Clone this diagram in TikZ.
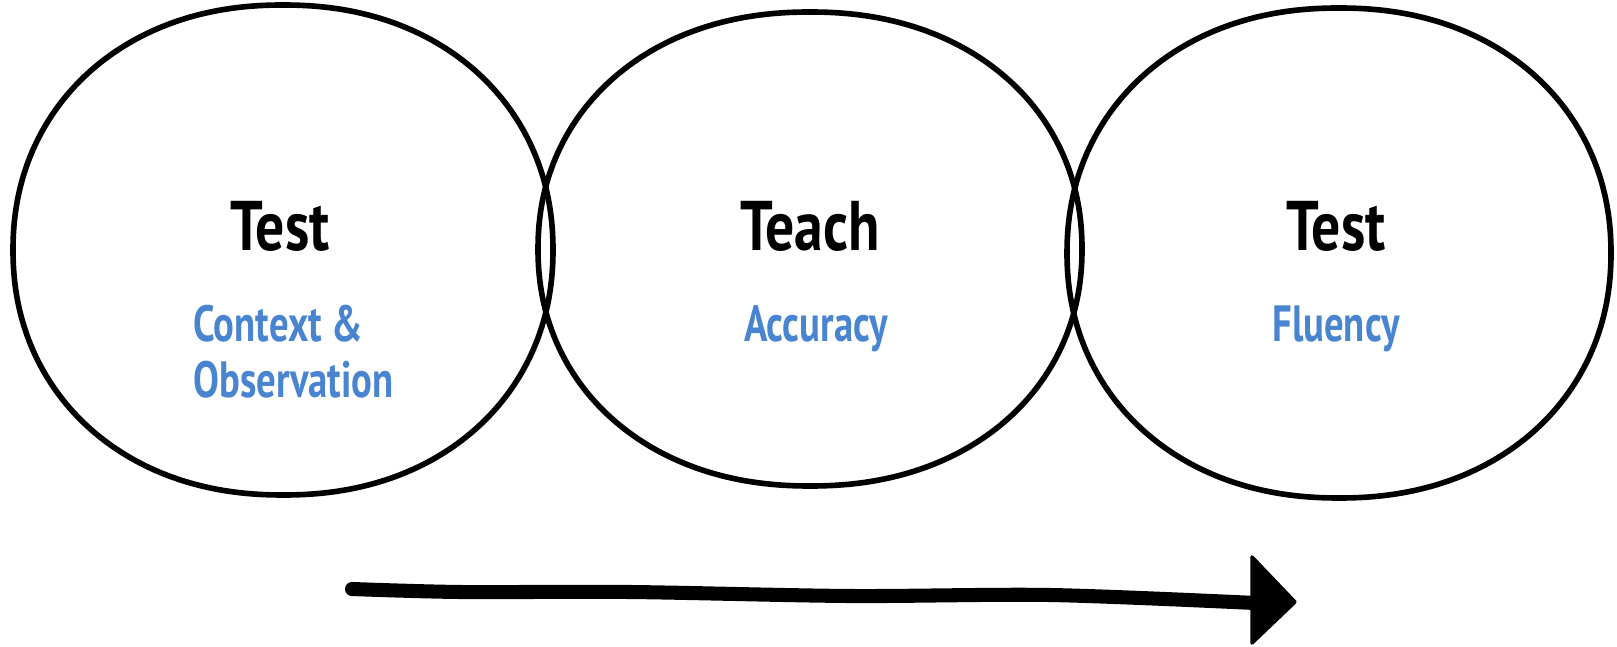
\documentclass[tikz,border=0pt]{standalone}
\usepackage{fontspec}
\setmainfont{PT Sans}
\definecolor{handblue}{RGB}{72,132,208}
\tikzset{
  blob/.style={draw=black, line width=1.6pt, line join=round},
  title/.style={anchor=base, inner sep=0pt, font=\bfseries\fontsize{20}{22}\selectfont, text=black},
  sub/.style={anchor=base, inner sep=0pt, font=\bfseries\fontsize{14.5}{16}\selectfont, text=handblue},
  subw/.style={sub, anchor=base west},
}
\newcommand{\sqz}[1]{\scalebox{0.82}[1]{#1}}
\newcommand{\sqzs}[1]{\scalebox{0.76}[1]{#1}}
\begin{document}
\begin{tikzpicture}
\useasboundingbox (0,0) rectangle (16.17,-6.47);
% centres
\coordinate (c1) at (2.83,-2.50);
\coordinate (c2) at (8.10,-2.49);
\coordinate (c3) at (13.39,-2.53);
% blobs
\begin{scope}[shift={(c1)}]
\draw[blob] plot[domain=1:358, samples=120, smooth cycle, variable=\t]
  ({2.70*cos(\t)*pow(abs(cos(\t)),-0.07)}, {2.45*sin(\t)*pow(abs(sin(\t)),-0.05)});
\end{scope}
\begin{scope}[shift={(c2)}]
\draw[blob] plot[domain=1:358, samples=120, smooth cycle, variable=\t]
  ({2.72*cos(\t)*pow(abs(cos(\t)),-0.07)}, {2.37*sin(\t)*pow(abs(sin(\t)),-0.05)});
\end{scope}
\begin{scope}[shift={(c3)}]
\draw[blob] plot[domain=1:358, samples=120, smooth cycle, variable=\t]
  ({2.72*cos(\t)*pow(abs(cos(\t)),-0.07)}, {2.45*sin(\t)*pow(abs(sin(\t)),-0.05)});
\end{scope}
% titles
\node[title] (t1) at (2.80,-2.51) {\sqz{Test}};
\node[title] (t2) at (8.10,-2.51) {\sqz{Teach}};
\node[title] (t3) at (13.36,-2.51) {\sqz{Test}};
% subtitles
\node[subw] (s1a) at (1.93,-3.42) {\sqzs{Context \&}};
\node[subw] (s1b) at (1.93,-3.97) {\sqzs{Observation}};
\node[sub] (s2) at (8.16,-3.42) {\sqzs{Accuracy}};
\node[sub] (s3) at (13.36,-3.42) {\sqzs{Fluency}};
% arrow
\coordinate (aS) at (3.52,-5.89);
\coordinate (aE) at (12.55,-6.03);
\draw[line width=4pt, line cap=round, line join=round]
  plot[smooth, tension=0.5] coordinates {(aS) (4.6,-5.92) (6.3,-5.92) (8.5,-5.96) (10.5,-5.95) (aE)};
\fill[line join=round, draw=black, line width=1pt] ([xshift=-0.03cm, yshift=0.46cm]aE) -- ([xshift=0.40cm, yshift=0.01cm]aE) -- ([xshift=-0.03cm, yshift=-0.40cm]aE) -- cycle;
\end{tikzpicture}
\end{document}
